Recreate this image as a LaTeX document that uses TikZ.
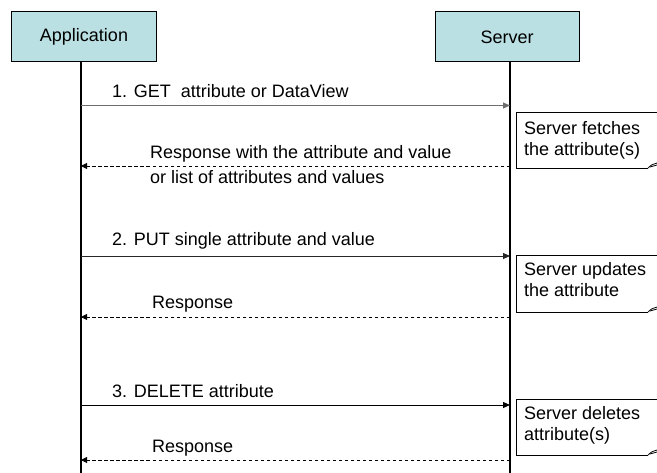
\documentclass[tikz,border=0pt]{standalone}
\usepackage{fontspec}
\setmainfont{Liberation Sans}
\usetikzlibrary{arrows.meta}
\definecolor{boxfill}{RGB}{187,224,227}
\definecolor{getgray}{RGB}{110,110,110}
\begin{document}
\begin{tikzpicture}[x=1bp,y=-1bp,
  every node/.style={font=\fontsize{18bp}{21bp}\selectfont, inner sep=0pt},
  actor/.style={draw=black, line width=1bp, fill=boxfill, minimum width=144bp, minimum height=50bp},
  lifeline/.style={draw=black, line width=1.2bp},
  msg/.style={line width=0.9bp, -{Triangle[length=7bp,width=6bp]}},
  reply/.style={line width=0.8bp, dash pattern=on 3.5bp off 2.5bp, -{Triangle[length=6bp,width=6bp]}},
  note/.style={draw=black, line width=0.8bp},
  lbl/.style={anchor=base west, align=left},
  notetext/.style={anchor=north west, align=left, font=\fontsize{18bp}{21bp}\selectfont}
]
\useasboundingbox (0,0) rectangle (657,473);
\fill[white] (0,0) rectangle (657,473);

% actors
\node[actor] (app) at (84,37) {Application};
\node[actor] (srv) at (507,37) {Server};

% lifelines
\coordinate (append) at (81,473);
\coordinate (srvend) at (510,473);
\coordinate (apptop) at (81,62);
\coordinate (srvtop) at (510,62);
\draw[lifeline] (apptop) -- (append);
\draw[lifeline] (srvtop) -- (srvend);

% message coordinates
\coordinate (a1) at (81,105.5);  \coordinate (s1) at (510,105.5);
\coordinate (s1r) at (510,166);  \coordinate (a1r) at (81,166);
\coordinate (a2) at (81,256);    \coordinate (s2) at (510,256);
\coordinate (s2r) at (510,317);  \coordinate (a2r) at (81,317);
\coordinate (a3) at (81,405);    \coordinate (s3) at (510,405);
\coordinate (s3r) at (510,460);  \coordinate (a3r) at (81,460);

% messages
\draw[msg, getgray] (a1) -- (s1);
\node[lbl] (l1) at (112,98) {1. GET\ \ attribute or DataView};
\draw[reply] (s1r) -- (a1r);
\node[lbl] (l1r) at (150,184) {Response with the attribute and value\\[4bp]or list of attributes and values};

\draw[msg, black!85] (a2) -- (s2);
\node[lbl] (l2) at (112,246) {2. PUT single attribute and value};
\draw[reply] (s2r) -- (a2r);
\node[lbl] (l2r) at (152,309) {Response};

\draw[msg, black] (a3) -- (s3);
\node[lbl] (l3) at (112,397) {3. DELETE attribute};
\draw[reply] (s3r) -- (a3r);
\node[lbl] (l3r) at (152,452) {Response};

% notes
\foreach \t/\b/\n in {112/168/1, 255/312/2, 399/455/3}{
  \draw[note] (662,\t) -- (516,\t) -- (516,\b) -- (648,\b);
  \draw[note] (648,\b) .. controls (651,\b-3) .. (657,\b-5);
  \draw[note] (650,\b-1) -- (657,\b-3);
}
\node[notetext] (n1) at (524,121) {Server fetches\\the attribute(s)};
\node[notetext] (n2) at (524,262) {Server updates\\the attribute};
\node[notetext] (n3) at (524,406) {Server deletes\\attribute(s)};
\end{tikzpicture}
\end{document}
